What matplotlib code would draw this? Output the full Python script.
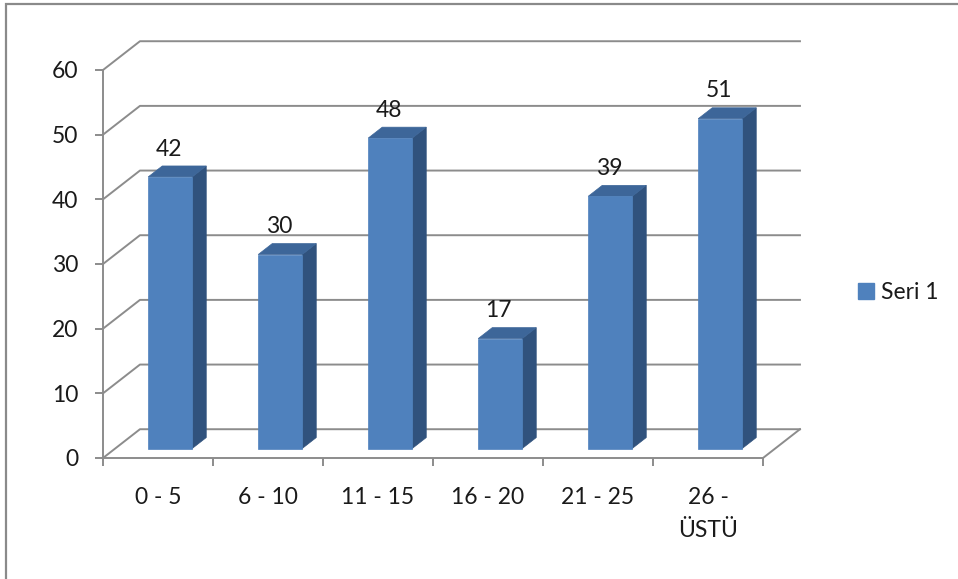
import matplotlib.pyplot as plt
from matplotlib.patches import Polygon, Patch, Rectangle

# Age groups and counts
categories = ['0 - 5', '6 - 10', '11 - 15', '16 - 20', '21 - 25', '26 -\nÜSTÜ']
values = [42, 30, 48, 17, 39, 51]
series_name = 'Seri 1'
y_ticks = [0, 10, 20, 30, 40, 50, 60]

FRONT = '#4F81BD'
SIDE = '#30527D'
TOP = '#3D6699'
GRID = '#8C8C8C'
TEXT = '#1A1A1A'
FS = 16.5

# fake 3D: depth direction expressed in data units (x = categories, y = value)
DX, DY = 0.336, 4.45
D0, D1 = 0.33, 0.71      # bar front / back depth (fraction of wall depth)
BAR_W = 0.40

plt.rcParams['font.family'] = ['Lato', 'DejaVu Sans']

W, H = 958, 579
fig = plt.figure(figsize=(W / 100, H / 100), dpi=100)
ax = fig.add_axes([103 / W, (H - 458) / H, 660 / W, 388 / H])
ax.set_xlim(0, len(categories))
ax.set_ylim(0, y_ticks[-1])
ax.patch.set_visible(False)

# outer chart border (right/bottom edges fall outside the canvas)
fig.patches.append(Rectangle((6 / W, -0.1), 1.2, (H - 4) / H + 0.1,
                             transform=fig.transFigure, fill=False,
                             edgecolor='#8A8A8A', lw=1.6))


def depth(x, y, d):
    return (x + d * DX, y + d * DY)


# walls: side-wall diagonals and back-wall gridlines
n = len(categories)
for v in y_ticks:
    xs = [0, DX, n + DX]
    ys = [v, v + DY, v + DY]
    ax.plot(xs, ys, color=GRID, lw=1.4, clip_on=False, zorder=1)
ax.plot([n, n + DX], [0, DY], color=GRID, lw=1.4, clip_on=False, zorder=1)

# bars
for i, v in enumerate(values):
    x0 = i + 0.5 - BAR_W / 2
    x1 = i + 0.5 + BAR_W / 2
    fl, fr = depth(x0, 0, D0), depth(x1, 0, D0)
    front = [fl, fr, (fr[0], fr[1] + v), (fl[0], fl[1] + v)]
    br = depth(x1, 0, D1)
    bl = depth(x0, 0, D1)
    side = [fr, br, (br[0], br[1] + v), (fr[0], fr[1] + v)]
    top = [(fl[0], fl[1] + v), (fr[0], fr[1] + v),
           (br[0], br[1] + v), (bl[0], bl[1] + v)]
    for pts, c in [(side, SIDE), (top, TOP), (front, FRONT)]:
        ax.add_patch(Polygon(pts, closed=True, facecolor=c, edgecolor=c,
                             lw=0.5, clip_on=False, zorder=3))
    ax.annotate(str(v), ((fl[0] + fr[0]) / 2, fl[1] + v),
                xytext=(-1, 20), textcoords='offset points',
                ha='center', va='center', fontsize=FS, color=TEXT,
                annotation_clip=False, zorder=4)

# axes
for s in ['top', 'right']:
    ax.spines[s].set_visible(False)
for s in ['left', 'bottom']:
    ax.spines[s].set_color(GRID)
    ax.spines[s].set_linewidth(1.4)
    ax.spines[s].set_zorder(2)

ax.set_yticks(y_ticks)
ax.set_yticklabels([str(t) for t in y_ticks])
ax.tick_params(axis='y', length=6, width=1.4, color=GRID, pad=12,
               labelsize=FS, labelcolor=TEXT)

ax.set_xticks(range(n + 1))
ax.set_xticklabels([''] * (n + 1))
ax.tick_params(axis='x', which='major', length=6, width=1.4, color=GRID)
ax.set_xticks([i + 0.5 for i in range(n)], minor=True)
ax.set_xticklabels(categories, minor=True, linespacing=1.68)
ax.tick_params(axis='x', which='minor', length=0, pad=21,
               labelsize=FS, labelcolor=TEXT)

ax.legend(handles=[Patch(facecolor=FRONT, edgecolor=FRONT, label=series_name)],
          loc='center left', bbox_to_anchor=(858 / W, 1 - 293 / H),
          bbox_transform=fig.transFigure, frameon=False, fontsize=FS,
          handlelength=0.7, handleheight=0.7, handletextpad=0.32,
          borderpad=0, borderaxespad=0, labelcolor=TEXT)

fig.savefig('out.png', dpi=100)
